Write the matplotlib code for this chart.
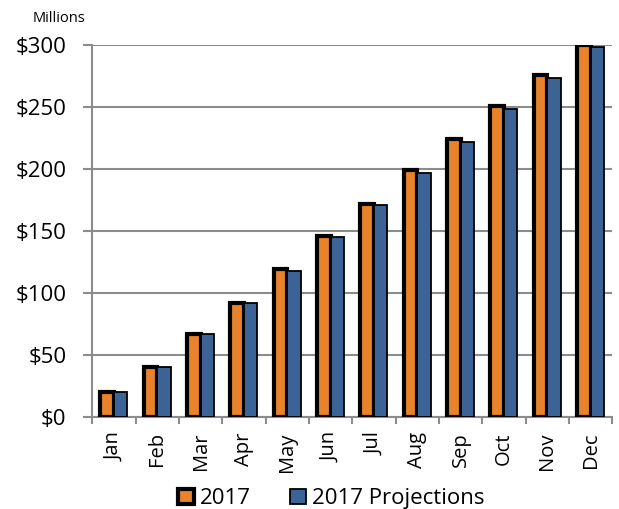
import numpy as np
import matplotlib.pyplot as plt

months = ['Jan', 'Feb', 'Mar', 'Apr', 'May', 'Jun', 'Jul', 'Aug', 'Sep', 'Oct', 'Nov', 'Dec']
actual_2017 = [20, 40, 67, 92, 119, 146, 172, 199, 224, 251, 276, 300]
projections_2017 = [20, 40, 66.5, 91.5, 118, 145, 171, 197, 221.5, 248, 273, 298]

plt.rcParams['font.family'] = ['Open Sans', 'DejaVu Sans']

fig = plt.figure(figsize=(6.19, 5.09), dpi=100)
ax = fig.add_axes([0.149, 0.181, 0.840, 0.731])

x = np.arange(len(months))
w = 0.31
ax.bar(x - w / 2, actual_2017, w, color='#E8832C', edgecolor='black', linewidth=3,
       label='2017', zorder=3)
ax.bar(x + w / 2, projections_2017, w, color='#3B6396', edgecolor='black', linewidth=1.3,
       label='2017 Projections', zorder=3)

ax.set_xlim(-0.5, len(months) - 0.5)
ax.set_ylim(0, 300)
ax.set_yticks(np.arange(0, 301, 50))
ax.set_yticklabels(['$' + str(v) for v in range(0, 301, 50)], fontsize=16)
ax.yaxis.grid(True, color='#8c8c8c', linewidth=1.5, zorder=0)

ax.set_xticks(x)
ax.set_xticklabels(months, rotation=90, fontsize=14.5)
ax.set_xticks(np.arange(-0.5, len(months)), minor=True)
ax.tick_params(axis='x', which='major', length=0, pad=11)
ax.tick_params(axis='x', which='minor', length=5, color='#8c8c8c', width=1.5)
ax.tick_params(axis='y', length=6.5, color='#8c8c8c', width=1.5, pad=12)

for s in ['top', 'right']:
    ax.spines[s].set_visible(False)
for s in ['left', 'bottom']:
    ax.spines[s].set_color('#8c8c8c')
    ax.spines[s].set_linewidth(1.5)

fig.text(0.052, 0.957, 'Millions', fontsize=10.5)
fig.legend(loc='lower center', bbox_to_anchor=(0.535, -0.04), ncol=2, frameon=False,
           fontsize=16, handlelength=0.7, handleheight=0.7, handletextpad=0.25,
           columnspacing=1.8)

fig.savefig('out.png', dpi=100)
